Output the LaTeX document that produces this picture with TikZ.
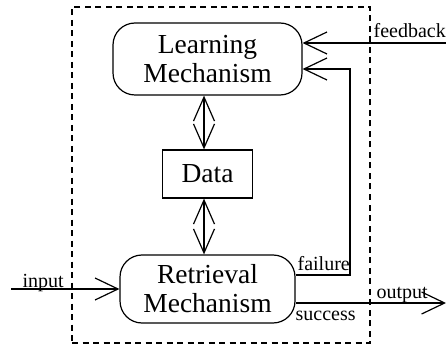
\documentclass[tikz,border=0pt]{standalone}
\usepackage{fontspec}
\setmainfont{Liberation Serif}
\usetikzlibrary{arrows.meta}
\begin{document}
\begin{tikzpicture}[x=1pt,y=-1pt,
  line width=1.2pt,
  bigtxt/.style={font=\fontsize{27.5}{29}\selectfont, align=center, inner sep=0pt},
  lbl/.style={font=\fontsize{20}{22}\selectfont, inner sep=0pt},
  mech/.style={bigtxt, draw, rounded corners=22pt},
  tip/.style={-{Straight Barb[length=23pt,width=22pt,line width=1.2pt]}},
  dtip/.style={{Straight Barb[length=24pt,width=21pt,line width=1.2pt]}-{Straight Barb[length=24pt,width=21pt,line width=1.2pt]}}
]
\useasboundingbox (0,0) rectangle (446,347);
\node[draw, dashed, dash pattern=on 6pt off 4.5pt, minimum width=298pt, minimum height=336pt, inner sep=0pt] (frame) at (221,175) {};
\node[mech, minimum width=189pt, minimum height=72pt] (learn) at (207.5,59) {Learning\\Mechanism};
\node[bigtxt, draw, minimum width=90pt, minimum height=48pt] (data) at (207.5,174) {Data};
\node[mech, minimum width=175pt, minimum height=68pt] (retr) at (207.5,289) {Retrieval\\Mechanism};
\coordinate (fbin) at (447,43);
\coordinate (inbeg) at (11,289);
\coordinate (outend) at (446,303);
\coordinate (fcorner) at (350,275);
\draw[dtip] ([xshift=-3.5pt]learn.south) -- ([xshift=-3.5pt]data.north);
\draw[dtip] ([xshift=-3.5pt]data.south) -- ([xshift=-3.5pt]retr.north);
\draw[tip] (fbin) -- (learn.east |- fbin);
\draw[tip] ([yshift=14pt]retr.east) -- (fcorner) |- ([yshift=-10pt]learn.east);
\draw[tip] (inbeg) -- (retr.west);
\draw[tip] ([yshift=-14pt]retr.east) -- (outend);
\node[lbl, anchor=base west] (lfb) at (373,38) {feedback};
\node[lbl, anchor=base west] (lfail) at (297,270) {failure};
\node[lbl, anchor=base west] (lin) at (22,287) {input};
\node[lbl, anchor=base west] (lout) at (376,298) {output};
\node[lbl, anchor=base west] (lsucc) at (295,320) {success};
\end{tikzpicture}
\end{document}
